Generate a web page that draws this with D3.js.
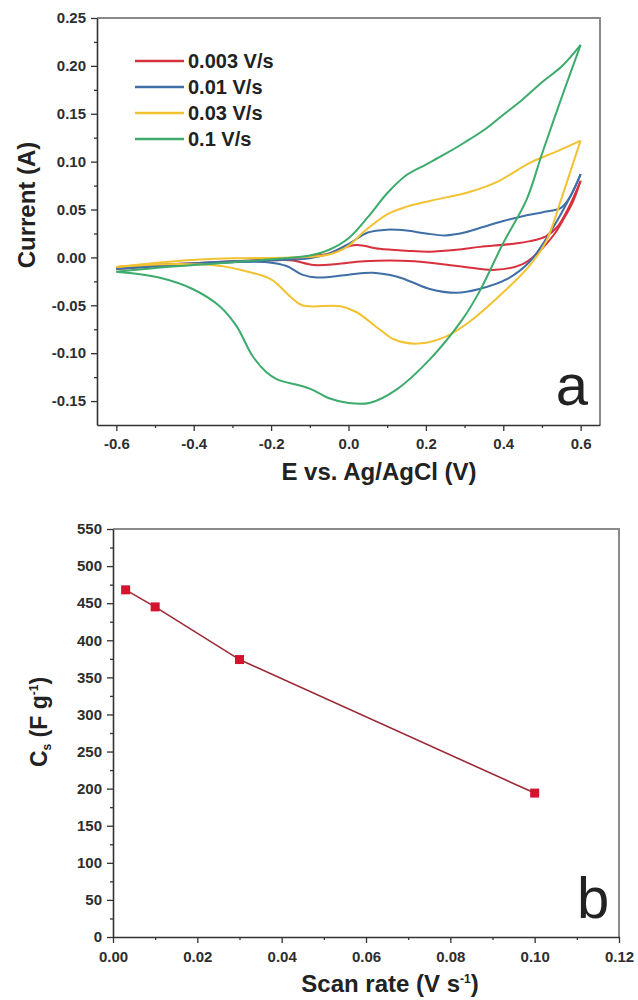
<!DOCTYPE html>
<html>
<head>
<meta charset="utf-8">
<script src="https://cdn.jsdelivr.net/npm/d3@7"></script>
<style>
   body { margin: 0; background: #fff; }
   svg text { font-family: "Liberation Sans", Arial, sans-serif; }
</style>
</head>
<body>
<svg id="fig" width="638" height="1000"></svg>
<script>
"use strict";

// ---- panel a: cyclic voltammograms, [E (V), I (A)] ----
const scanLabels = ["0.003 V/s", "0.01 V/s", "0.03 V/s", "0.1 V/s"];
const scanColours = ["#d8303c", "#3f6fa6", "#f3c232", "#3cab6c"];

const cv003Anodic = [[-0.6,-0.010],[-0.5,-0.008],[-0.4,-0.006],[-0.3,-0.004],[-0.2,-0.002],[-0.1,0.001],[-0.05,0.004],[-0.02,0.009],[0.02,0.013],[0.08,0.009],[0.15,0.007],[0.21,0.006],[0.28,0.008],[0.34,0.011],[0.42,0.014],[0.47,0.017],[0.51,0.022],[0.54,0.032],[0.57,0.053],[0.6,0.080]];
const cv003Cathodic = [[0.6,0.080],[0.58,0.058],[0.56,0.043],[0.535,0.026],[0.49,0.005],[0.45,-0.007],[0.38,-0.013],[0.30,-0.010],[0.17,-0.004],[0.04,-0.004],[-0.03,-0.007],[-0.09,-0.008],[-0.15,-0.003],[-0.25,-0.004],[-0.4,-0.007],[-0.6,-0.012]];

const cv01Anodic = [[-0.6,-0.011],[-0.5,-0.008],[-0.4,-0.006],[-0.3,-0.004],[-0.2,-0.003],[-0.1,-0.001],[-0.05,0.004],[0.0,0.014],[0.05,0.026],[0.1,0.029],[0.15,0.028],[0.2,0.025],[0.25,0.023],[0.3,0.026],[0.35,0.032],[0.4,0.038],[0.45,0.043],[0.5,0.047],[0.55,0.052],[0.575,0.065],[0.6,0.087]];
const cv01Cathodic = [[0.6,0.087],[0.57,0.061],[0.51,0.019],[0.467,-0.005],[0.408,-0.023],[0.338,-0.033],[0.28,-0.037],[0.21,-0.033],[0.165,-0.026],[0.124,-0.020],[0.062,-0.016],[0.0,-0.018],[-0.08,-0.021],[-0.12,-0.018],[-0.16,-0.009],[-0.21,-0.005],[-0.3,-0.005],[-0.45,-0.008],[-0.6,-0.012]];

const cv03Anodic = [[-0.6,-0.010],[-0.45,-0.004],[-0.3,-0.001],[-0.15,0.000],[-0.05,0.003],[0.0,0.012],[0.04,0.027],[0.1,0.045],[0.15,0.053],[0.21,0.059],[0.31,0.068],[0.38,0.078],[0.47,0.099],[0.54,0.111],[0.6,0.122]];
const cv03Cathodic = [[0.6,0.122],[0.59,0.110],[0.55,0.061],[0.51,0.016],[0.467,-0.009],[0.38,-0.044],[0.31,-0.068],[0.25,-0.083],[0.18,-0.090],[0.12,-0.086],[0.08,-0.075],[0.02,-0.057],[-0.02,-0.051],[-0.12,-0.050],[-0.15,-0.041],[-0.2,-0.023],[-0.26,-0.015],[-0.33,-0.009],[-0.45,-0.007],[-0.6,-0.010]];

const cv1Anodic = [[-0.6,-0.015],[-0.5,-0.011],[-0.4,-0.008],[-0.3,-0.005],[-0.2,-0.002],[-0.1,0.002],[-0.05,0.008],[0.0,0.020],[0.05,0.042],[0.1,0.067],[0.15,0.086],[0.2,0.097],[0.25,0.108],[0.3,0.120],[0.35,0.133],[0.4,0.149],[0.45,0.165],[0.5,0.183],[0.55,0.199],[0.6,0.222]];
const cv1Cathodic = [[0.6,0.222],[0.55,0.166],[0.5,0.108],[0.46,0.060],[0.4,0.015],[0.338,-0.036],[0.294,-0.065],[0.209,-0.107],[0.124,-0.138],[0.054,-0.152],[0.0,-0.152],[-0.05,-0.147],[-0.1,-0.137],[-0.186,-0.127],[-0.212,-0.120],[-0.248,-0.103],[-0.289,-0.072],[-0.333,-0.051],[-0.403,-0.033],[-0.49,-0.021],[-0.6,-0.015]];

const cvBranches = [
   [cv003Anodic, cv003Cathodic],
   [cv01Anodic, cv01Cathodic],
   [cv03Anodic, cv03Cathodic],
   [cv1Anodic, cv1Cathodic]
];

const aXTicks = [-0.6, -0.4, -0.2, 0.0, 0.2, 0.4, 0.6];
const aXMinor = [-0.5, -0.3, -0.1, 0.1, 0.3, 0.5];
const aYTicks = [-0.15, -0.10, -0.05, 0.00, 0.05, 0.10, 0.15, 0.20, 0.25];
const aYMinor = [-0.125, -0.075, -0.025, 0.025, 0.075, 0.125, 0.175, 0.225];

// ---- panel b: specific capacitance vs scan rate ----
const scanRates = [0.003, 0.01, 0.03, 0.1];
const capacitance = [468, 445, 374, 194];

const bXTicks = [0.00, 0.02, 0.04, 0.06, 0.08, 0.10, 0.12];
const bXMinor = [0.01, 0.03, 0.05, 0.07, 0.09, 0.11];
const bYTicks = [0, 50, 100, 150, 200, 250, 300, 350, 400, 450, 500, 550];
const bYMinor = [25, 75, 125, 175, 225, 275, 325, 375, 425, 475, 525];

const svg = d3.select("#fig");
const axisColour = "#333";
const frameColour = "#8a8a8a";

function drawFrame(x, y, opts) {
   const [x0, x1] = x.range();
   const [y0, y1] = y.range(); // y0 bottom, y1 top
   const g = svg.append("g");

   // top and right frame lines
   g.append("path")
      .attr("d", `M${x0},${y1}H${x1}V${y0}`)
      .attr("fill", "none")
      .attr("stroke", frameColour)
      .attr("stroke-width", 2);

   const minorX = g.append("g")
      .attr("transform", `translate(0,${y0})`)
      .call(d3.axisBottom(x).tickValues(opts.xMinor).tickSize(3).tickFormat(""));
   const minorY = g.append("g")
      .attr("transform", `translate(${x0},0)`)
      .call(d3.axisLeft(y).tickValues(opts.yMinor).tickSize(3).tickFormat(""));
   [minorX, minorY].forEach(s => s.select(".domain").remove());

   g.append("g")
      .attr("transform", `translate(0,${y0})`)
      .call(d3.axisBottom(x)
         .tickValues(opts.xTicks)
         .tickSize(6)
         .tickSizeOuter(0)
         .tickPadding(opts.xPad)
         .tickFormat(opts.xFormat));
   g.append("g")
      .attr("transform", `translate(${x0},0)`)
      .call(d3.axisLeft(y)
         .tickValues(opts.yTicks)
         .tickSize(6)
         .tickSizeOuter(0)
         .tickPadding(5)
         .tickFormat(opts.yFormat));

   g.selectAll(".tick line").attr("stroke", axisColour).attr("stroke-width", 1.3);
   g.selectAll(".domain").attr("stroke", axisColour).attr("stroke-width", 1.6);
   g.selectAll(".tick text")
      .attr("fill", "#2e2e2e")
      .style("font-size", "15px")
      .style("font-weight", "bold");
   return g;
}

// ---------- panel a ----------
const xA = d3.scaleLinear().domain([-0.65, 0.65]).range([97, 600]);
const yA = d3.scaleLinear().domain([-0.175, 0.25]).range([425, 18]);

drawFrame(xA, yA, {
   xTicks: aXTicks, xMinor: aXMinor, yTicks: aYTicks, yMinor: aYMinor,
   xFormat: d => d.toFixed(1), yFormat: d => d.toFixed(2), xPad: 7
});

const cvLine = d3.line()
   .x(d => xA(d[0]))
   .y(d => yA(d[1]))
   .curve(d3.curveCatmullRom.alpha(0.5));

const cvGroup = svg.append("g");
cvBranches.forEach((branches, i) => {
   branches.forEach(b => {
      cvGroup.append("path")
         .attr("d", cvLine(b))
         .attr("fill", "none")
         .attr("stroke", scanColours[i])
         .attr("stroke-width", 2)
         .attr("stroke-linejoin", "round");
   });
});

// legend
const legend = svg.append("g");
scanLabels.forEach((label, i) => {
   const ly = 61 + i * 26;
   legend.append("line")
      .attr("x1", 135).attr("x2", 184)
      .attr("y1", ly).attr("y2", ly)
      .attr("stroke", scanColours[i])
      .attr("stroke-width", 2.5);
   legend.append("text")
      .attr("x", 188).attr("y", ly)
      .attr("dy", "0.36em")
      .style("font-size", "20px")
      .style("font-weight", "bold")
      .attr("fill", "#222")
      .text(label);
});

svg.append("text")
   .attr("x", 572).attr("y", 405)
   .attr("text-anchor", "middle")
   .style("font-size", "58px")
   .attr("fill", "#222")
   .text("a");

svg.append("text")
   .attr("transform", "translate(35,205) rotate(-90)")
   .attr("text-anchor", "middle")
   .style("font-size", "24px")
   .style("font-weight", "bold")
   .attr("fill", "#222")
   .text("Current (A)");

svg.append("text")
   .attr("x", 379).attr("y", 480)
   .attr("text-anchor", "middle")
   .style("font-size", "24px")
   .style("font-weight", "bold")
   .attr("fill", "#222")
   .text("E vs. Ag/AgCl (V)");

// ---------- panel b ----------
const xB = d3.scaleLinear().domain([0, 0.12]).range([113, 619]);
const yB = d3.scaleLinear().domain([0, 550]).range([937, 529]);

drawFrame(xB, yB, {
   xTicks: bXTicks, xMinor: bXMinor, yTicks: bYTicks, yMinor: bYMinor,
   xFormat: d => d.toFixed(2), yFormat: d => d, xPad: 8
});

const csData = scanRates.map((r, i) => [r, capacitance[i]]);

svg.append("path")
   .attr("d", d3.line().x(d => xB(d[0])).y(d => yB(d[1]))(csData))
   .attr("fill", "none")
   .attr("stroke", "#9a2a36")
   .attr("stroke-width", 1.6);

svg.append("g")
   .selectAll("rect")
   .data(csData)
   .join("rect")
   .attr("x", d => xB(d[0]) - 4.5)
   .attr("y", d => yB(d[1]) - 4.5)
   .attr("width", 9)
   .attr("height", 9)
   .attr("fill", "#d3142e");

svg.append("text")
   .attr("x", 577).attr("y", 918)
   .style("font-size", "58px")
   .attr("fill", "#222")
   .text("b");

const csLabel = svg.append("text")
   .attr("transform", "translate(47,722) rotate(-90)")
   .attr("text-anchor", "middle")
   .style("font-size", "23px")
   .style("font-weight", "bold")
   .attr("fill", "#222");
csLabel.append("tspan").text("C");
csLabel.append("tspan").attr("dy", 4).style("font-size", "12px").text("s");
csLabel.append("tspan").attr("dy", -4).text(" (F g");
csLabel.append("tspan").attr("dy", -9).style("font-size", "12px").text("-1");
csLabel.append("tspan").attr("dy", 9).text(")");

const rateLabel = svg.append("text")
   .attr("x", 390).attr("y", 992)
   .attr("text-anchor", "middle")
   .style("font-size", "24px")
   .style("font-weight", "bold")
   .attr("fill", "#222");
rateLabel.append("tspan").text("Scan rate (V s");
rateLabel.append("tspan").attr("dy", -9).style("font-size", "12px").text("-1");
rateLabel.append("tspan").attr("dy", 9).text(")");
</script>
</body>
</html>
